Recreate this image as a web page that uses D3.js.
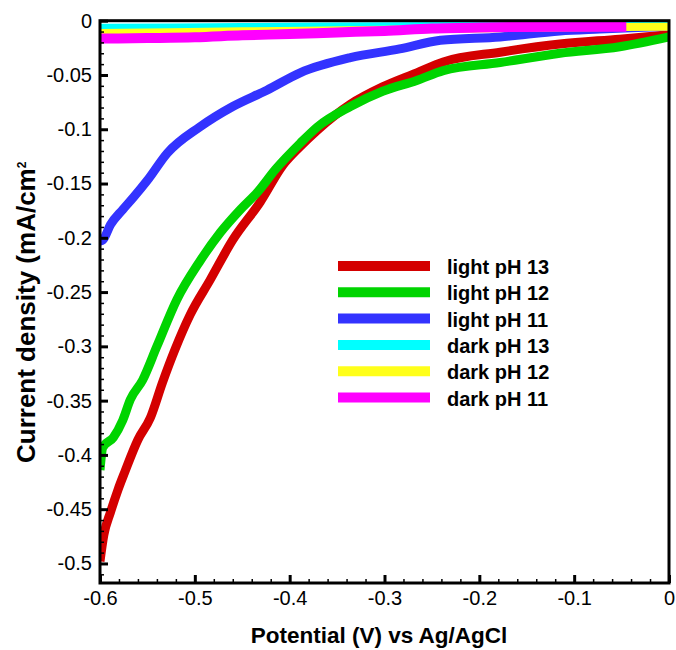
<!DOCTYPE html>
<html>
<head>
<meta charset="utf-8">
<script src="https://cdn.jsdelivr.net/npm/d3@7"></script>
<style>
  html, body { margin: 0; padding: 0; background: #fff; }
  svg { display: block; }
  text { font-family: Arial, "Liberation Sans", sans-serif; fill: #000; }
</style>
</head>
<body>
<svg id="chart" width="676" height="650"></svg>
<script>
// ---------- data ----------
const seriesNames = ["light pH 13", "light pH 12", "light pH 11", "dark pH 13", "dark pH 12", "dark pH 11"];
const seriesColors = ["#d40000", "#00d400", "#3333ff", "#00ffff", "#ffff1a", "#ff00ff"];

const lightPH13V = [-0.600,-0.596,-0.589,-0.581,-0.574,-0.560,-0.547,-0.534,-0.521,-0.505,-0.484,-0.460,-0.431,-0.407,-0.389,-0.371,-0.336,-0.302,-0.266,-0.238,-0.178,-0.115,-0.052,0];
const lightPH13I = [-0.498,-0.474,-0.453,-0.432,-0.416,-0.386,-0.366,-0.333,-0.303,-0.271,-0.239,-0.202,-0.167,-0.133,-0.116,-0.101,-0.077,-0.061,-0.048,-0.038,-0.029,-0.0215,-0.017,-0.013];

const lightPH12V = [-0.600,-0.597,-0.586,-0.576,-0.568,-0.555,-0.540,-0.519,-0.495,-0.473,-0.452,-0.434,-0.415,-0.389,-0.371,-0.336,-0.302,-0.266,-0.238,-0.178,-0.115,-0.052,0];
const lightPH12I = [-0.414,-0.393,-0.384,-0.368,-0.349,-0.331,-0.300,-0.257,-0.222,-0.195,-0.174,-0.158,-0.137,-0.113,-0.098,-0.079,-0.065,-0.055,-0.046,-0.0385,-0.030,-0.024,-0.015];

const lightPH11V = [-0.600,-0.597,-0.589,-0.576,-0.565,-0.550,-0.529,-0.495,-0.460,-0.424,-0.389,-0.336,-0.284,-0.241,-0.178,-0.115,-0.073,0];
const lightPH11I = [-0.203,-0.202,-0.188,-0.174,-0.163,-0.147,-0.122,-0.098,-0.079,-0.064,-0.048,-0.034,-0.026,-0.018,-0.015,-0.0095,-0.0077,-0.005];

const darkPH13V = [-0.6,-0.45,-0.3,-0.15,0];
const darkPH13I = [-0.0065,-0.0058,-0.0051,-0.0045,-0.0040];

const darkPH12V = [-0.6,-0.45,-0.3,-0.15,0];
const darkPH12I = [-0.0113,-0.0098,-0.0083,-0.0066,-0.0055];

const darkPH11V = [-0.6,-0.55,-0.5,-0.45,-0.4,-0.35,-0.3,-0.25,-0.2,-0.15,-0.1,-0.045];
const darkPH11I = [-0.0165,-0.016,-0.0153,-0.0135,-0.0123,-0.0108,-0.0094,-0.0072,-0.0062,-0.0058,-0.0056,-0.0055];

const xTickValues = [-0.6,-0.5,-0.4,-0.3,-0.2,-0.1,0];
const xTickLabels = ["-0.6","-0.5","-0.4","-0.3","-0.2","-0.1","0"];
const yTickValues = [0,-0.05,-0.1,-0.15,-0.2,-0.25,-0.3,-0.35,-0.4,-0.45,-0.5];
const yTickLabels = ["0","-0.05","-0.1","-0.15","-0.2","-0.25","-0.3","-0.35","-0.4","-0.45","-0.5"];

const xTitle = "Potential (V) vs Ag/AgCl";
const yTitle = "Current density (mA/cm";
const yTitleSup = "2";

// ---------- layout ----------
const L = 100, R = 669, T = 20.7, B = 583;
const svg = d3.select("#chart");

const x = d3.scaleLinear().domain([-0.6, 0]).range([L, R]);
const y = d3.scaleLinear().domain([-0.518, 0]).range([B, T]);

const seriesV = [lightPH13V, lightPH12V, lightPH11V, darkPH13V, darkPH12V, darkPH11V];
const seriesI = [lightPH13I, lightPH12I, lightPH11I, darkPH13I, darkPH12I, darkPH11I];
const strokeW = [9, 9, 9, 8, 8, 10];

svg.append("defs").append("clipPath").attr("id", "plotclip")
  .append("rect").attr("x", L).attr("y", T).attr("width", R - L).attr("height", B - T);

const line = d3.line().x(d => x(d[0])).y(d => y(d[1])).curve(d3.curveMonotoneX);

const plot = svg.append("g").attr("clip-path", "url(#plotclip)");
seriesNames.forEach((name, i) => {
  const pts = seriesV[i].map((v, j) => [v, seriesI[i][j]]);
  plot.append("path")
    .datum(pts)
    .attr("d", line)
    .attr("fill", "none")
    .attr("stroke", seriesColors[i])
    .attr("stroke-width", strokeW[i])
    .attr("stroke-linejoin", "round")
    .attr("stroke-linecap", "butt");
});

// ---------- axes ----------
const xMinor = d3.range(-0.6, 0.0001, 0.02).filter(v => Math.abs(Math.round(v * 10) - v * 10) > 1e-6);
const yMinor = d3.range(-0.51, 0.0001, 0.01).filter(v => Math.abs(Math.round(v * 20) - v * 20) > 1e-6);

const xAxis = svg.append("g").attr("transform", `translate(0,${B})`)
  .call(d3.axisBottom(x).tickValues(xTickValues).tickFormat((d, i) => xTickLabels[i])
    .tickSizeInner(-8).tickSizeOuter(0).tickPadding(8));
xAxis.select(".domain").remove();
xAxis.selectAll("line").attr("stroke", "#000").attr("stroke-width", 3);
xAxis.selectAll("text").attr("font-size", 20).style("font-family", "Arial, 'Liberation Sans', sans-serif");

const xAxisMinor = svg.append("g").attr("transform", `translate(0,${B})`)
  .call(d3.axisBottom(x).tickValues(xMinor).tickFormat("").tickSizeInner(-4).tickSizeOuter(0));
xAxisMinor.select(".domain").remove();
xAxisMinor.selectAll("line").attr("stroke", "#000").attr("stroke-width", 1.5);

const yAxis = svg.append("g").attr("transform", `translate(${L},0)`)
  .call(d3.axisLeft(y).tickValues(yTickValues).tickFormat((d, i) => yTickLabels[i])
    .tickSizeInner(-8).tickSizeOuter(0).tickPadding(8));
yAxis.select(".domain").remove();
yAxis.selectAll("line").attr("stroke", "#000").attr("stroke-width", 3);
yAxis.selectAll("text").attr("font-size", 20).style("font-family", "Arial, 'Liberation Sans', sans-serif");

const yAxisMinor = svg.append("g").attr("transform", `translate(${L},0)`)
  .call(d3.axisLeft(y).tickValues(yMinor).tickFormat("").tickSizeInner(-4).tickSizeOuter(0));
yAxisMinor.select(".domain").remove();
yAxisMinor.selectAll("line").attr("stroke", "#000").attr("stroke-width", 1.5);

// frame
svg.append("rect").attr("x", L).attr("y", T).attr("width", R - L).attr("height", B - T)
  .attr("fill", "none").attr("stroke", "#000").attr("stroke-width", 3);

// ---------- titles ----------
svg.append("text").attr("x", 379).attr("y", 643).attr("text-anchor", "middle")
  .attr("font-size", 22.5).attr("font-weight", "bold").text(xTitle);

const yt = svg.append("text").attr("transform", "translate(35,463) rotate(-90)")
  .attr("text-anchor", "start").attr("font-size", 26).attr("font-weight", "bold");
yt.append("tspan").text(yTitle);
yt.append("tspan").attr("dy", -9).attr("font-size", 12).text(yTitleSup);

// ---------- legend ----------
const legend = svg.append("g");
seriesNames.forEach((name, i) => {
  const cy = 266 + i * 26.3;
  legend.append("line").attr("x1", 338).attr("x2", 430).attr("y1", cy).attr("y2", cy)
    .attr("stroke", seriesColors[i]).attr("stroke-width", 10);
  legend.append("text").attr("x", 447).attr("y", cy + 8)
    .attr("font-size", 20).attr("font-weight", "bold").text(name);
});
</script>
</body>
</html>
